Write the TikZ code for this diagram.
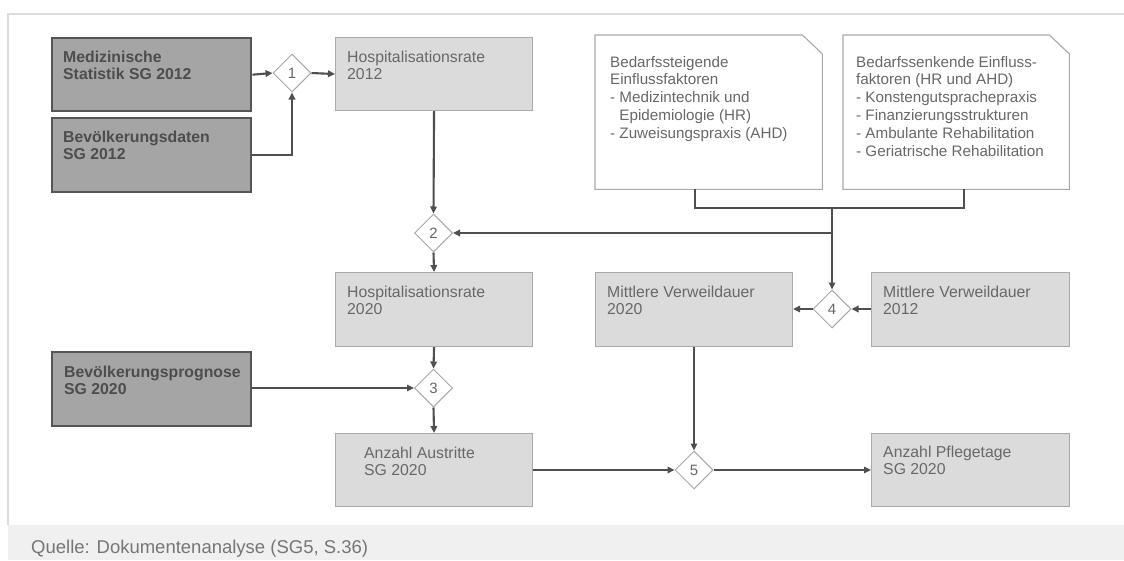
\documentclass[tikz,border=0pt]{standalone}
\usepackage{fontspec}
\setmainfont{Liberation Sans}
\usetikzlibrary{shapes.geometric,arrows.meta,calc}

\definecolor{framegray}{HTML}{DCDCDC}
\definecolor{footfill}{HTML}{F0F0F0}
\definecolor{foottext}{HTML}{767676}
\definecolor{darkfill}{HTML}{A5A5A5}
\definecolor{darkline}{HTML}{555555}
\definecolor{darktext}{HTML}{4D4D4D}
\definecolor{lightfill}{HTML}{DBDBDB}
\definecolor{lightline}{HTML}{A9A9A9}
\definecolor{lighttext}{HTML}{686868}
\definecolor{connline}{HTML}{4F4F4F}
\definecolor{diamline}{HTML}{A8A8A8}

% multi-line text whose first baseline is the node's base
\newcommand\txtblock[1]{\parbox[t]{260pt}{\raggedright #1}}

\tikzset{
  darkbox/.style={draw=darkline, line width=2.4pt, fill=darkfill, rectangle,
    inner sep=0, anchor=north west},
  lightbox/.style={draw=lightline, line width=1.1pt, fill=lightfill, rectangle,
    inner sep=0, anchor=north west},
  notebox/.style={rectangle, inner sep=0, anchor=north west},
  notebord/.style={draw=lightline, line width=1.1pt, fill=white},
  dtxt/.style={anchor=base west, inner sep=0, text=darktext,
    font=\fontsize{15.8}{17.8}\selectfont\bfseries},
  ltxt/.style={anchor=base west, inner sep=0, text=lighttext,
    font=\fontsize{15.8}{17.8}\selectfont},
  ntxt/.style={anchor=base west, inner sep=0, text=lighttext,
    font=\fontsize{15.2}{17.9}\selectfont},
  op/.style={diamond, aspect=1, draw=diamline, line width=1pt, fill=white,
    minimum size=38pt, inner sep=0, text=lighttext,
    font=\fontsize{15}{17}\selectfont},
  conn/.style={draw=connline, line width=2.1pt},
  thin/.style={draw=connline, line width=1.4pt},
  arr/.style={-{Triangle[length=7pt,width=6.5pt]}},
}

\begin{document}
\begin{tikzpicture}[x=1pt,y=-1pt]
\useasboundingbox (0,0) rectangle (1124,560);

% frame and source line
\fill[footfill] (8,525) rectangle (1124,560);
\draw[framegray, line width=1.5pt] (8,525) -- (8,14) -- (1124,14);
\node[anchor=base west, inner sep=0, text=foottext,
  font=\fontsize{18.5}{21}\selectfont] (src) at (31,553)
  {Quelle: Dokumentenanalyse (SG5, S.36)};

% data sources
\node[darkbox, minimum width=199pt, minimum height=73pt] (med) at (51,37) {};
\node[darkbox, minimum width=199pt, minimum height=74pt] (bev) at (51,117) {};
\node[darkbox, minimum width=199pt, minimum height=74pt] (prog) at (51,351) {};
\node[dtxt] (medt) at ($(med.north west)+(12,25)$) {\txtblock{Medizinische\\Statistik SG 2012}};
\node[dtxt] (bevt) at ($(bev.north west)+(12,25)$) {\txtblock{Bevölkerungsdaten\\SG 2012}};
\node[dtxt] (progt) at ($(prog.north west)+(13,26)$) {\txtblock{Bevölkerungsprognose\\SG 2020}};

% intermediate and result boxes
\node[lightbox, minimum width=197pt, minimum height=73pt] (h12) at (335,37) {};
\node[lightbox, minimum width=197pt, minimum height=74pt] (h20) at (335,272) {};
\node[lightbox, minimum width=197pt, minimum height=74pt] (mv20) at (595,272) {};
\node[lightbox, minimum width=198pt, minimum height=74pt] (mv12) at (871,272) {};
\node[lightbox, minimum width=197pt, minimum height=73pt] (aus) at (335,433) {};
\node[lightbox, minimum width=198pt, minimum height=73pt] (pfl) at (871,433) {};
\node[ltxt] (h12t) at ($(h12.north west)+(12,25)$) {\txtblock{Hospitalisationsrate\\2012}};
\node[ltxt] (h20t) at ($(h20.north west)+(12,25)$) {\txtblock{Hospitalisationsrate\\2020}};
\node[ltxt] (mv20t) at ($(mv20.north west)+(12,25)$) {\txtblock{Mittlere Verweildauer\\2020}};
\node[ltxt] (mv12t) at ($(mv12.north west)+(12,25)$) {\txtblock{Mittlere Verweildauer\\2012}};
\node[ltxt] (aust) at ($(aus.north west)+(29,25)$) {\txtblock{Anzahl Austritte\\SG 2020}};
\node[ltxt] (pflt) at ($(pfl.north west)+(12,24)$) {\txtblock{Anzahl Pflegetage\\SG 2020}};

% influence factor notes with folded corner
\node[notebox, minimum width=227pt, minimum height=154pt] (b1) at (595,35) {};
\node[notebox, minimum width=226pt, minimum height=154pt] (b2) at (843,35) {};
\foreach \b in {b1,b2}{
  \draw[notebord] (\b.north west) -- ([xshift=-20pt]\b.north east)
    -- ([yshift=-19pt]\b.north east) -- (\b.south east) -- (\b.south west) -- cycle;
}
\node[ntxt] (b1t) at ($(b1.north west)+(15,32)$) {\txtblock{Bedarfssteigende\\Einflussfaktoren\\- Medizintechnik und\\\phantom{- }Epidemiologie (HR)\\- Zuweisungspraxis (AHD)}};
\node[ntxt] (b2t) at ($(b2.north west)+(13,32)$) {\txtblock{Bedarfssenkende Einfluss-\\faktoren (HR und AHD)\\- Konstengutsprachepraxis\\- Finanzierungsstrukturen\\- Ambulante Rehabilitation\\- Geriatrische Rehabilitation}};

% calculation steps
\node[op] (d1) at (292,73) {1};
\node[op] (d2) at (433.5,233) {2};
\node[op] (d3) at (433.5,388) {3};
\node[op] (d4) at (832,309) {4};
\node[op] (d5) at (694,470) {5};

% junction points of the factor connector
\coordinate (jl) at (695,208);
\coordinate (jr) at (964,208);
\coordinate (jm) at (832,208);
\coordinate (jb) at (832,233);

% connectors
\draw[conn, arr] (med.east) -- (d1.west);
\draw[conn, arr] (d1.east) -- (h12.west);
\draw[conn, arr] (bev.east) -| (d1.south);
\draw[conn, arr] (h12.south) -- (d2.north);
\draw[conn] (jl |- b1.south) -- (jl) -- (jr) -- (jr |- b2.south);
\draw[conn, arr] (jm) -- (d4.north);
\draw[conn, arr] (jb) -- (d2.east);
\draw[conn, arr] (d2.south) -- (h20.north);
\draw[conn, arr] (h20.south) -- (d3.north);
\draw[thin, arr] (prog.east |- d3.west) -- (d3.west);
\draw[conn, arr] (d3.south) -- (aus.north);
\draw[conn, arr] (aus.east |- d5.west) -- (d5.west);
\draw[thin, arr] (mv20.south -| d5.north) -- (d5.north);
\draw[thin, arr] (d5.east) -- (pfl.west |- d5.east);
\draw[conn, arr] (mv12.west |- d4.east) -- (d4.east);
\draw[conn, arr] (d4.west) -- (mv20.east |- d4.west);
\end{tikzpicture}
\end{document}
